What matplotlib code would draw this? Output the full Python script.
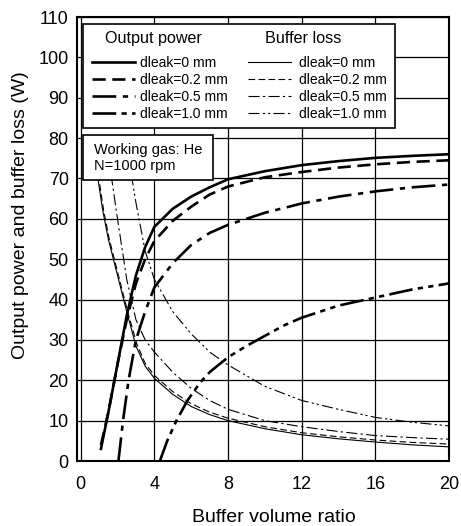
import matplotlib
matplotlib.use("Agg")
import matplotlib.pyplot as plt
from matplotlib.patches import Rectangle
from matplotlib.lines import Line2D

plt.rcParams['font.family'] = ['Liberation Sans', 'DejaVu Sans']

# ---- data ----
# Output power
op0_x = [1.1, 1.5, 2, 2.5, 3, 3.5, 4, 5, 6, 7, 8, 10, 12, 14, 16, 18, 20]
op0_y = [3, 12, 24, 36, 46, 53, 58, 62.5, 65.5, 67.8, 69.8, 71.8, 73.3, 74.3, 75.1, 75.6, 76]
op2_x = [1.1, 1.5, 2, 2.5, 3, 3.5, 4, 5, 6, 7, 8, 10, 12, 14, 16, 18, 20]
op2_y = [4, 12, 24, 35, 44, 50, 54.5, 59.5, 63, 66, 68, 70.3, 71.6, 72.7, 73.5, 74.1, 74.5]
op5_x = [2.05, 2.3, 2.6, 3, 3.5, 4, 5, 6, 7, 8, 10, 12, 14, 16, 18, 20]
op5_y = [0, 10, 20, 30, 37, 43, 49, 53.5, 56.5, 58.5, 61.5, 63.8, 65.5, 66.8, 67.8, 68.5]
op10_x = [4.3, 4.7, 5.2, 5.8, 6.5, 7, 8, 9, 10, 11, 12, 13, 14, 16, 18, 20]
op10_y = [0, 5, 10, 15, 19.5, 22, 25.7, 28.5, 31, 33.5, 35.5, 37, 38.5, 40.5, 42.5, 44]

# Buffer loss
bl0_x = [0.9, 1.2, 1.5, 2, 2.5, 3, 3.5, 4, 5, 6, 7, 8, 10, 12, 14, 16, 18, 20]
bl0_y = [71, 62, 55, 46, 37, 28.5, 23.5, 20.5, 16.5, 13.5, 11.5, 10, 8, 6.5, 5.5, 4.7, 4, 3.5]
bl2_x = [0.95, 1.25, 1.55, 2.05, 2.55, 3.05, 3.5, 4, 5, 6, 7, 8, 10, 12, 14, 16, 18, 20]
bl2_y = [71, 62, 55, 46, 37, 29, 24.2, 21.2, 17.2, 14.2, 12.1, 10.6, 8.5, 7, 6, 5.2, 4.6, 4.2]
bl5_x = [1.65, 2, 2.5, 3, 3.5, 4, 5, 6, 7, 8, 10, 12, 14, 16, 18, 20]
bl5_y = [71, 60, 45, 35, 30, 27, 22, 18, 15, 12.8, 10, 8.5, 7.3, 6.3, 5.8, 5.4]
bl10_x = [2.75, 3, 3.5, 4, 5, 6, 7, 8, 10, 12, 14, 16, 18, 20]
bl10_y = [71, 64, 52, 45, 37, 31.5, 27, 23.8, 18.5, 15, 12.8, 10.8, 9.6, 8.7]

labels = ["dleak=0 mm", "dleak=0.2 mm", "dleak=0.5 mm", "dleak=1.0 mm"]
xticks = [0, 4, 8, 12, 16, 20]
yticks = list(range(0, 111, 10))

styles = ['-', (0, (5, 2.5)), (0, (9, 2.5, 2, 2.5)), (0, (9, 2, 2, 2, 2, 2))]
thin_styles = ['-', (0, (6, 3)), (0, (10, 3, 2, 3)), (0, (10, 3, 2, 2.5, 2, 3))]

fig = plt.figure(figsize=(4.61, 5.26), dpi=100)
ax = fig.add_axes([77/461, 1 - 461/526, 372/461, 444/526])

ax.set_xlim(-0.2, 20)
ax.set_ylim(0, 110)
ax.set_xticks(xticks)
ax.set_yticks(yticks)
ax.tick_params(length=0, labelsize=13)
ax.tick_params(axis='x', pad=11)
ax.tick_params(axis='y', pad=6)
ax.grid(True, color='black', linewidth=0.9)
for s in ax.spines.values():
    s.set_linewidth(1.5)

op = [(op0_x, op0_y), (op2_x, op2_y), (op5_x, op5_y), (op10_x, op10_y)]
bl = [(bl0_x, bl0_y), (bl2_x, bl2_y), (bl5_x, bl5_y), (bl10_x, bl10_y)]
for (x, y), ls in zip(op, styles):
    ax.plot(x, y, color='black', lw=1.9, linestyle=ls, zorder=3)
for (x, y), ls in zip(bl, thin_styles):
    ax.plot(x, y, color='black', lw=0.8, linestyle=ls, zorder=3)

ax.set_xlabel("Buffer volume ratio", fontsize=14)
ax.set_ylabel("Output power and buffer loss (W)", fontsize=14)
ax.xaxis.set_label_coords(0.53, -0.108)
ax.yaxis.set_label_coords(-0.128, 0.554)

# legend box
ax.add_patch(Rectangle((0.016, 0.75), 0.839, 0.234, transform=ax.transAxes,
                       facecolor='white', edgecolor='black', lw=1.2, zorder=5))
ax.text(0.075, 0.951, "Output power", transform=ax.transAxes, fontsize=11.6,
        ha='left', va='center', zorder=6)
ax.text(0.505, 0.951, "Buffer loss", transform=ax.transAxes, fontsize=11.6,
        ha='left', va='center', zorder=6)
h1 = [Line2D([], [], color='black', lw=1.9, linestyle=ls) for ls in styles]
h2 = [Line2D([], [], color='black', lw=0.8, linestyle=ls) for ls in thin_styles]
leg1 = ax.legend(h1, labels, loc='upper left',
                 bbox_to_anchor=(0.032, 0.919), frameon=False, fontsize=10,
                 handlelength=3.1, handletextpad=0.38,
                 labelspacing=0.22, borderpad=0.2, borderaxespad=0)
leg1.set_zorder(6)
ax.add_artist(leg1)
leg2 = ax.legend(h2, labels, loc='upper left',
                 bbox_to_anchor=(0.452, 0.919), frameon=False, fontsize=10,
                 handlelength=3.1, handletextpad=0.55,
                 labelspacing=0.22, borderpad=0.2, borderaxespad=0)
leg2.set_zorder(6)

# working gas box
ax.add_patch(Rectangle((0.016, 0.634), 0.35, 0.1, transform=ax.transAxes,
                       facecolor='white', edgecolor='black', lw=1.2, zorder=5))
ax.text(0.045, 0.716, "Working gas: He\nN=1000 rpm", transform=ax.transAxes,
        fontsize=10.5, va='top', ha='left', zorder=6, linespacing=1.15)

fig.savefig("out.png", dpi=100)
